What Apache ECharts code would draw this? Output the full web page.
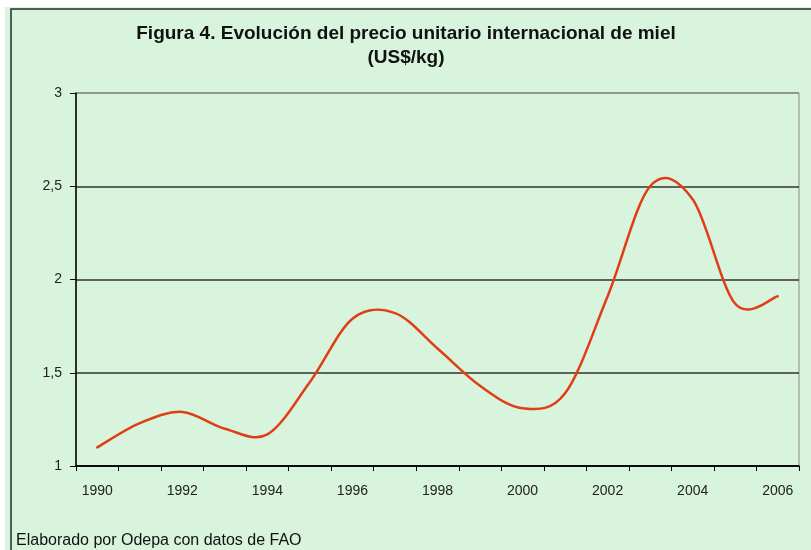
<!DOCTYPE html>
<html><head><meta charset="utf-8">
<script src="https://cdn.jsdelivr.net/npm/echarts@6/dist/echarts.min.js"></script>
<style>html,body{margin:0;padding:0;background:#fff}#c{width:811px;height:550px}</style>
</head><body><div id="c"></div>
<script>
const years = ['1990','1991','1992','1993','1994','1995','1996','1997','1998','1999','2000','2001','2002','2003','2004','2005','2006'];
const prices = [1.10, 1.23, 1.29, 1.20, 1.17, 1.45, 1.79, 1.82, 1.63, 1.43, 1.31, 1.39, 1.91, 2.50, 2.43, 1.87, 1.91];
const titleText = 'Figura 4. Evolución del precio unitario internacional de miel';
const subtitleText = '(US$/kg)';
const footerText = 'Elaborado por Odepa con datos de FAO';

const FONT = '"Liberation Sans", Arial, sans-serif';

// Excel-style (Catmull-Rom) smoothed path through the points, positioned by the axes
function renderSmooth(params, api) {
  if (params.dataIndex !== 0) return null;
  const pts = prices.map((v, i) => api.coord([i, v]));
  const n = pts.length;
  const P = i => pts[Math.max(0, Math.min(n - 1, i))];
  let d = 'M' + pts[0][0] + ' ' + pts[0][1];
  for (let i = 0; i < n - 1; i++) {
    const p0 = P(i - 1), p1 = P(i), p2 = P(i + 1), p3 = P(i + 2);
    const c1 = [p1[0] + (p2[0] - p0[0]) / 6, p1[1] + (p2[1] - p0[1]) / 6];
    const c2 = [p2[0] - (p3[0] - p1[0]) / 6, p2[1] - (p3[1] - p1[1]) / 6];
    d += ' C' + c1[0] + ' ' + c1[1] + ' ' + c2[0] + ' ' + c2[1] + ' ' + p2[0] + ' ' + p2[1];
  }
  return {
    type: 'path',
    shape: {pathData: d},
    style: {fill: 'none', stroke: '#e03e16', lineWidth: 2.5, lineJoin: 'round', lineCap: 'round'}
  };
}

const chart = echarts.init(document.getElementById('c'), null, {renderer:'canvas'});
chart.setOption({
  backgroundColor: '#ffffff',
  animation: false,
  title: {
    text: titleText + '\n' + subtitleText,
    left: 401, top: 17, textAlign: 'center',
    textStyle: {fontFamily: FONT, fontSize: 19, fontWeight: 'bold', color: '#111', lineHeight: 24}
  },
  graphic: [
    {type:'rect', z:-10, shape:{x:5, y:7, width:820, height:560}, style:{fill:'#d8f4dc'}},
    {type:'rect', z:-9, shape:{x:11, y:9, width:820, height:560}, style:{fill:'none', stroke:'#2a2a2a', lineWidth:1.5}},
    {type:'text', left:16, top:533, style:{text: footerText, font: '16px "Liberation Sans", Arial, sans-serif', fill:'#111'}}
  ],
  grid: {left:76, right:12, top:93, bottom:84, show:true, borderColor:'#8a8a8a', borderWidth:1, backgroundColor:'transparent'},
  xAxis: {
    type:'category', data: years, boundaryGap: true,
    axisLine:{lineStyle:{color:'#000', width:1.5}},
    axisTick:{show:true, interval:0, length:5, lineStyle:{color:'#000'}},
    axisLabel:{interval:1, margin:18, fontFamily:FONT, fontSize:14, color:'#222'},
    splitLine:{show:false}
  },
  yAxis: {
    type:'value', min:1, max:3, interval:0.5,
    axisLine:{show:true, lineStyle:{color:'#000', width:1.5}},
    axisTick:{show:true, length:6, lineStyle:{color:'#000'}},
    axisLabel:{margin:14, fontFamily:FONT, fontSize:14, color:'#222', formatter: v => String(v).replace('.', ',')},
    splitLine:{show:true, lineStyle:{color:['#000','#333','#333','#333','#8a8a8a'], width:1.5}}
  },
  series: [{
    type:'custom', name:'Precio', renderItem: renderSmooth,
    encode:{x:0, y:1},
    data: prices.map((v, i) => [i, v])
  }]
});
</script></body></html>
